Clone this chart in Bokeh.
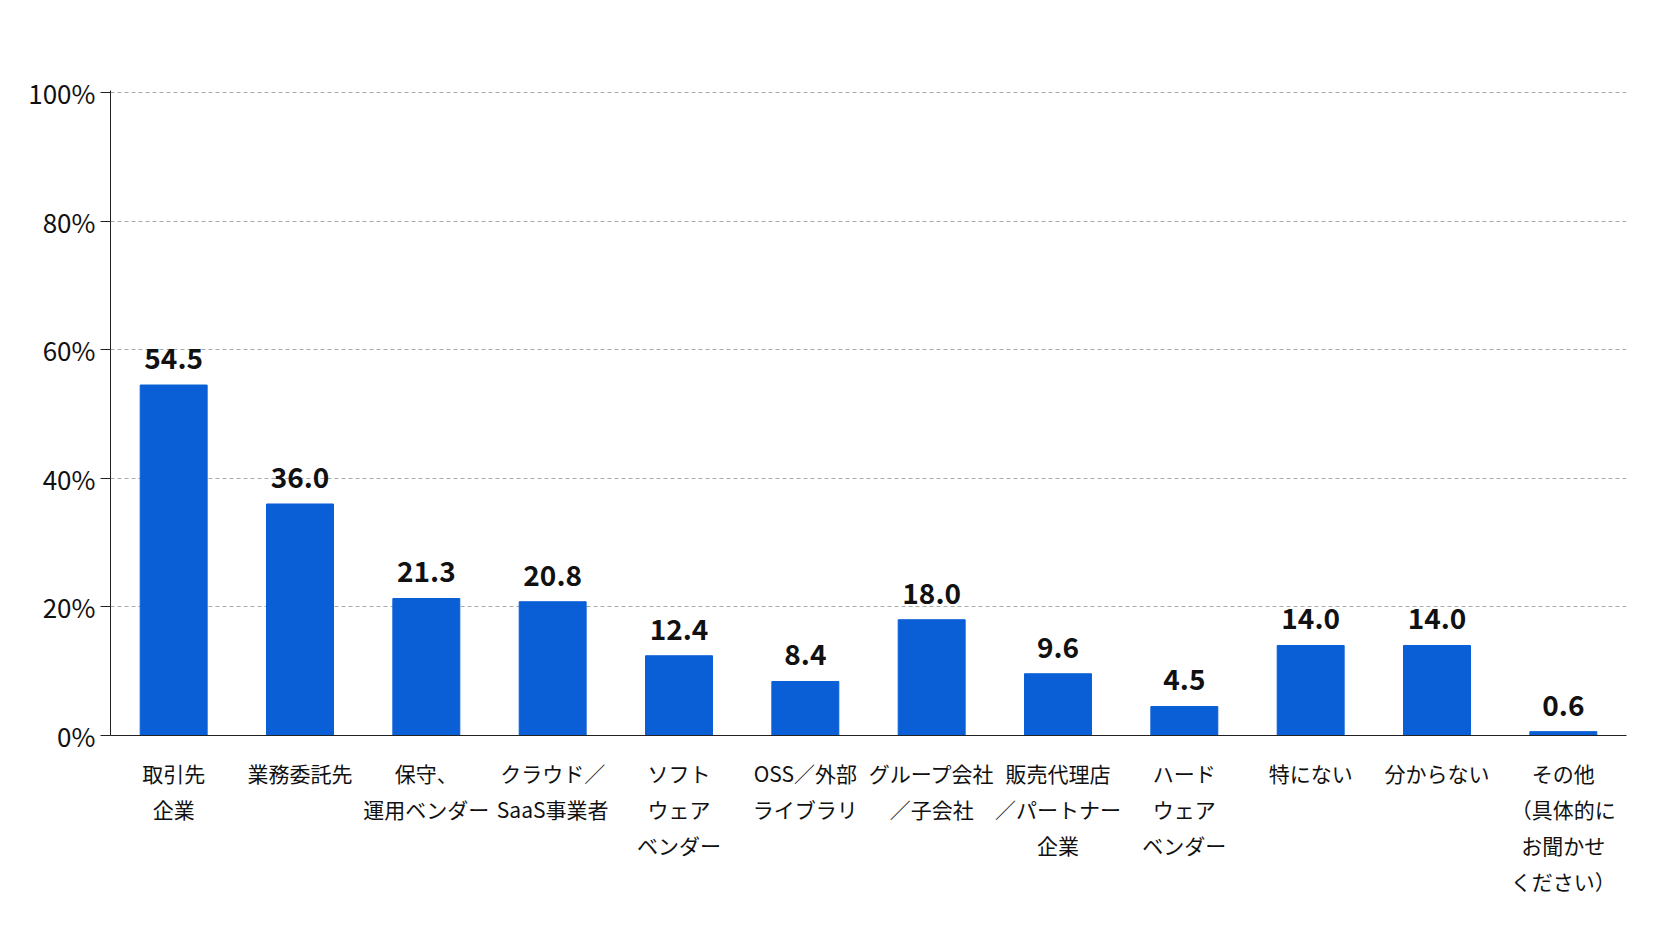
from bokeh.plotting import figure
from bokeh.models import ColumnDataSource, Label, FixedTicker, CustomJSTickFormatter
from bokeh.core.properties import value
from bokeh.embed import file_html
from bokeh.resources import INLINE

categories = ["取引先\n企業", "業務委託先", "保守、\n運用ベンダー", "クラウド／\nSaaS事業者", "ソフト\nウェア\nベンダー",
              "OSS／外部\nライブラリ", "グループ会社\n／子会社", "販売代理店\n／パートナー\n企業", "ハード\nウェア\nベンダー",
              "特にない", "分からない", "その他\n（具体的に\nお聞かせ\nください）"]
values = [54.5, 36.0, 21.3, 20.8, 12.4, 8.4, 18.0, 9.6, 4.5, 14.0, 14.0, 0.6]
labels = [f"{v:.1f}" for v in values]
yticks = [0, 20, 40, 60, 80, 100]

F = "Noto Sans CJK JP"
src = ColumnDataSource(dict(x=categories, top=values, lab=labels, ly=[v + 2.5 for v in values]))
p = figure(x_range=categories, y_range=(0, 100.3), width=1656, height=925,
           output_backend="svg", toolbar_location=None,
           min_border_left=110, min_border_top=90, min_border_right=30, min_border_bottom=190)
p.vbar(x="x", top="top", width=0.53, color="#0a5fd6", source=src)
p.text(x="x", y="ly", text="lab", source=src, text_align="center", text_baseline="bottom",
       text_font=value(F), text_font_size="28px", text_font_style="bold", text_color="#111111")
p.outline_line_color = None
p.xgrid.grid_line_color = None
p.ygrid.grid_line_color = "#aaaaaa"
p.ygrid.grid_line_dash = "4 3"
p.yaxis.ticker = FixedTicker(ticks=yticks)
p.yaxis.formatter = CustomJSTickFormatter(code="return tick + '%'")
p.yaxis.major_label_text_font = F
p.yaxis.major_label_text_font_size = "26px"
p.yaxis.major_label_text_color = "#111111"
p.yaxis.axis_line_color = "#222222"
p.yaxis.major_tick_line_color = "#222222"
p.yaxis.major_tick_out = 10
p.yaxis.major_tick_in = 0
p.yaxis.minor_tick_line_color = None
p.xaxis.axis_line_color = "#222222"
p.xaxis.major_tick_line_color = None
p.xaxis.major_label_text_font = F
p.xaxis.major_label_text_font_size = "21px"
p.xaxis.major_label_text_color = "#111111"
p.xaxis.major_label_standoff = 16
p.add_layout(Label(x=1640, y=895, x_units="screen", y_units="screen", text="（n=178）",
                   text_font=F, text_font_size="26px", text_align="right", text_baseline="top",
                   text_color="#111111"))
open("out.html", "w").write(file_html(p, INLINE))
